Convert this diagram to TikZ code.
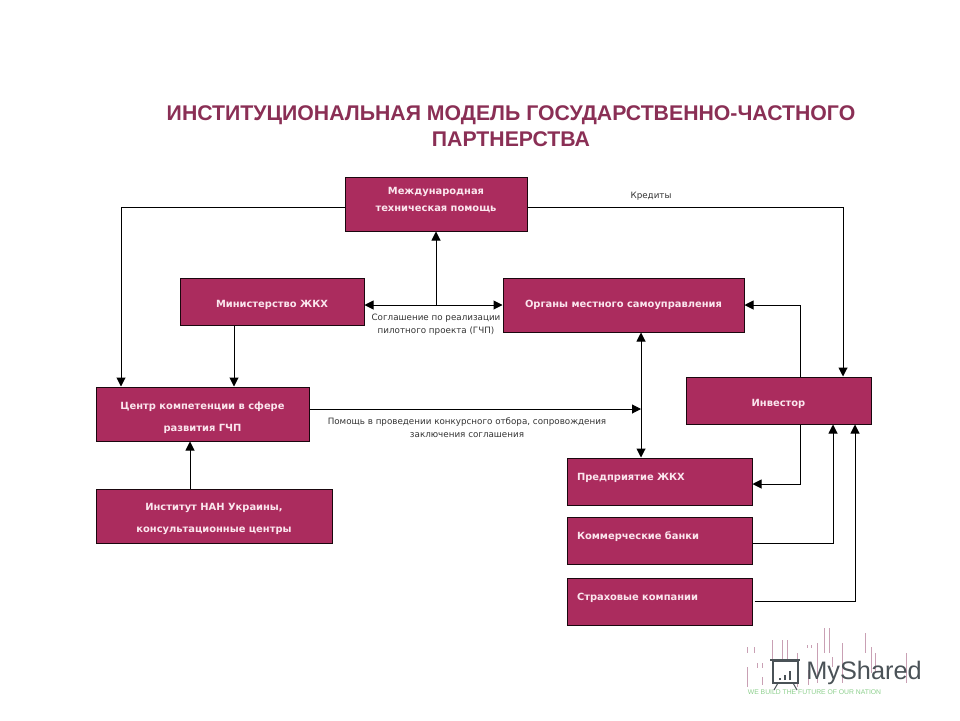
\documentclass[tikz,border=0pt]{standalone}
\usepackage{fontspec}
\setmainfont{Liberation Sans}
\newfontfamily\boxfont{DejaVu Sans}
\usetikzlibrary{arrows.meta}
\definecolor{boxfill}{HTML}{AB2C5E}
\definecolor{boxtext}{HTML}{FBE6EE}
\definecolor{titlecolor}{HTML}{8A2F55}
\definecolor{barpink}{HTML}{C9A0B4}
\definecolor{logogray}{HTML}{4A5257}
\definecolor{logogreen}{HTML}{8CCF8C}
\tikzset{
  orgbox/.style={draw=black!85!boxfill,line width=1pt,fill=boxfill,inner sep=0pt,text=boxtext,font=\boxfont\bfseries\fontsize{9.9}{22}\selectfont,align=center},
  leftbox/.style={orgbox,minimum width=185pt,minimum height=47pt,text width=165pt,align=left},
  arrowline/.style={-{Triangle[length=9pt,width=9pt]},line width=1pt},
  botharrow/.style={{Triangle[length=9pt,width=9pt]}-{Triangle[length=9pt,width=9pt]},line width=1pt},
  plainlabel/.style={font=\boxfont\fontsize{8.75}{13}\selectfont,text=black!80,align=center,inner sep=0pt}
}
\begin{document}
\begin{tikzpicture}[x=1pt,y=-1pt]
\useasboundingbox (0,0) rectangle (960,720);
%\draw[very thin,color=gray,step=100] (0,0) grid (960,720);
\node[font=\bfseries\fontsize{21.25}{26}\selectfont,text=titlecolor,align=center,inner sep=0pt] (title) at (511,126) {ИНСТИТУЦИОНАЛЬНАЯ МОДЕЛЬ ГОСУДАРСТВЕННО-ЧАСТНОГО\\ПАРТНЕРСТВА};
\node[orgbox,minimum width=182pt,minimum height=54pt,font=\boxfont\bfseries\fontsize{9.9}{17}\selectfont] (aid) at (436,204) {Международная\\\rule[-10pt]{0pt}{10pt}техническая помощь};
\node[orgbox,minimum width=184pt,minimum height=47pt] (ministry) at (272,301.5) {\rule{0pt}{15pt}Министерство ЖКХ};
\node[orgbox,minimum width=241pt,minimum height=54pt] (local) at (623.5,305) {Органы местного самоуправления};
\node[orgbox,minimum width=213pt,minimum height=54pt] (center) at (202.5,414) {\rule{0pt}{16pt}Центр компетенции в сфере\\развития ГЧП};
\node[orgbox,minimum width=236pt,minimum height=54pt] (institute) at (214,516) {\rule{0pt}{14pt}Институт НАН Украины,\\консультационные центры};
\node[orgbox,minimum width=185pt,minimum height=47pt] (investor) at (778.5,400.5) {\rule{0pt}{14pt}Инвестор};
\node[leftbox] (utility) at (659.5,481.5) {\rule[-9pt]{0pt}{9pt}Предприятие ЖКХ};
\node[leftbox] (banks) at (659.5,540.5) {\rule[-9pt]{0pt}{9pt}Коммерческие банки};
\node[leftbox] (insurers) at (659.5,601.5) {\rule[-9pt]{0pt}{9pt}Страховые компании};
\node[plainlabel] (credits) at (651,196) {Кредиты};
\node[plainlabel] (agreement) at (436,325) {Соглашение по реализации\\пилотного проекта (ГЧП)};
\node[plainlabel] (help) at (467,428) {Помощь в проведении конкурсного отбора, сопровождения\\заключения соглашения};
% corner points
\coordinate (leftup) at (121,207);
\coordinate (rightup) at (843,207);
\coordinate (join) at (436,305);
\coordinate (helpend) at (641,409);
\coordinate (invorg) at (800,305);
\coordinate (invutil) at (800,484);
\coordinate (bankcorner) at (833,543);
\coordinate (inscorner) at (855,601);
\draw[arrowline] (aid.west |- leftup) -- (leftup) -- (leftup |- center.north);
\draw[arrowline] (aid.east |- rightup) -- (rightup) -- (rightup |- investor.north);
\draw[botharrow] (ministry.east |- join) -- (local.west |- join);
\draw[arrowline] (join) -- (join |- aid.south);
\draw[arrowline] (ministry.south -| 234,0) -- (234,0 |- center.north);
\draw[arrowline] (institute.north -| 190,0) -- (190,0 |- center.south);
\draw[arrowline] (center.east |- helpend) -- (helpend);
\draw[botharrow] (local.south -| helpend) -- (utility.north -| helpend);
\draw[arrowline] (investor.north -| invorg) -- (invorg) -- (local.east |- invorg);
\draw[arrowline] (investor.south -| invutil) -- (invutil) -- (utility.east |- invutil);
\draw[arrowline] (banks.east |- bankcorner) -- (bankcorner) -- (bankcorner |- investor.south);
\draw[arrowline] (insurers.east |- inscorner) ++(2,0) -- (inscorner) -- (inscorner |- investor.south);
% logo
\foreach \xa/\ya/\yb in {747/647/653,754/647/653,747/667/687,757/663/668,762/663/668,762/677/685,772/640/660,782/640/660,787/640/660,797/653/687,807/645/648,811/645/648,808/670/685,817/643/683,824/628/653,829/628/653,832/657/667,842/643/683,865/633/653,871/647/673,875/653/673,906/653/683}
  \draw[barpink,line width=0.8pt] (\xa,\ya) -- (\xa,\yb);
\node[font=\fontsize{25.3}{25}\selectfont,text=logogray,inner sep=0pt] (logo) at (864,673) {MyShared};
\node[font=\fontsize{6.8}{7}\selectfont,text=logogreen,inner sep=0pt] (motto) at (814.5,692) {WE BUILD THE FUTURE OF OUR NATION};
\draw[logogray,line width=1.2pt] (773,661) rectangle (798,683);
\draw[logogray,line width=2pt] (770,660) -- (800,660);
\draw[logogray,line width=1pt] (778,683) -- (774,690) (793,683) -- (797,690);
\foreach \xa/\ya in {780/678,785/675,790/671}
  \draw[logogray,line width=2pt] (\xa,680) -- (\xa,\ya);
\end{tikzpicture}
\end{document}
